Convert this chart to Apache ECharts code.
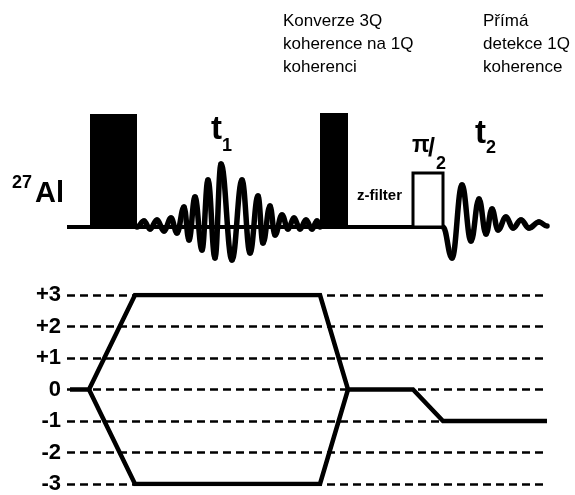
<!DOCTYPE html>
<html>
<head>
<meta charset="utf-8">
<script src="https://cdn.jsdelivr.net/npm/echarts@6/dist/echarts.min.js"></script>
<style>
  html, body { margin: 0; padding: 0; background: #fff; }
  #chart { width: 575px; height: 495px; }
</style>
</head>
<body>
<div id="chart"></div>
<script>
// coherence levels on the lower panel
let levels = [-3, -2, -1, 0, 1, 2, 3];

// pulses: [start, end, height, filled]
let pulses = [
  [90, 137, 113, 1],
  [320, 348, 114, 1],
  [413, 443, 54, 0]
];

let baseline = [[67, 0], [443, 0]];

// extrema of the t1 signal
let fidT1 = [
  [137, 0], [144, 6], [150, -2], [157, 7], [164, -4], [171, 9], [177, -6],
  [184, 20], [189, -13], [195, 30], [202, -23], [208, 47], [215, -31],
  [221, 63], [232, -33], [242, 47], [250, -26], [258, 31], [263, -16],
  [270, 21], [275, -8], [282, 12], [288, -2], [294, 9], [300, -2],
  [306, 7], [312, -2], [317, 6], [320, 0]
];

// extrema of the t2 signal
let fidT2 = [
  [443, 0], [452, -31], [462, 42], [471, -14], [479, 28], [486, -7],
  [492, 18], [498, -3], [506, 10], [513, -1], [521, 7], [529, -1],
  [539, 5], [547, 1]
];

// coherence transfer pathway
let pathUpper = [[70, 0], [89, 0], [135, 3], [320, 3], [348, 0], [413, 0], [443, -1], [547, -1]];
let pathLower = [[89, 0], [135, -3], [320, -3], [348, 0]];

let font = '"Liberation Sans", Arial, sans-serif';

// draws a signal as half-waves between neighbouring extrema (flat at each extremum)
function waveRenderer(points) {
  return function (params, api) {
    let i = params.dataIndex;
    if (i === 0) return null;
    let a = api.coord(points[i - 1]);
    let b = api.coord(points[i]);
    let k = 0.42 * (b[0] - a[0]);
    return {
      type: 'bezierCurve',
      shape: {
        x1: a[0], y1: a[1], x2: b[0], y2: b[1],
        cpx1: a[0] + k, cpy1: a[1], cpx2: b[0] - k, cpy2: b[1]
      },
      style: { stroke: '#000', lineWidth: 5.5, fill: null, lineCap: 'round' }
    };
  };
}

let myChart = echarts.init(document.getElementById('chart'));

let option = {
  animation: false,
  backgroundColor: '#fff',
  grid: [
    { left: 67, right: 28, top: 100, height: 170 },
    { left: 67, right: 28, top: 295, bottom: 7 }
  ],
  xAxis: [
    { type: 'value', gridIndex: 0, min: 67, max: 547, show: false },
    { type: 'value', gridIndex: 1, min: 67, max: 547, show: false }
  ],
  yAxis: [
    { type: 'value', gridIndex: 0, min: -43, max: 127, show: false },
    {
      type: 'value', gridIndex: 1, min: -3, max: 3, interval: 1,
      axisLine: { show: false },
      axisTick: { show: false },
      axisLabel: {
        margin: 6,
        color: '#000',
        fontSize: 22,
        fontWeight: 'bold',
        fontFamily: font,
        formatter: function (v) { return v > 0 ? '+' + v : '' + v; }
      },
      splitLine: {
        show: true,
        lineStyle: { color: '#000', width: 2.5, type: [8, 5] }
      }
    }
  ],
  graphic: [
    { type: 'text', left: 283, top: 10, style: { text: 'Konverze 3Q\nkoherence na 1Q\nkoherenci', font: '17px ' + font, fill: '#000', lineHeight: 23 } },
    { type: 'text', left: 483, top: 10, style: { text: 'Přímá\ndetekce 1Q\nkoherence', font: '17px ' + font, fill: '#000', lineHeight: 23 } },
    { type: 'text', left: 12, top: 174, style: { text: '27', font: 'bold 18px ' + font, fill: '#000' } },
    { type: 'text', left: 35, top: 179, style: { text: 'Al', font: 'bold 29px ' + font, fill: '#000' } },
    { type: 'text', left: 211, top: 113, style: { text: 't', font: 'bold 33px ' + font, fill: '#000' } },
    { type: 'text', left: 222, top: 137, style: { text: '1', font: 'bold 18px ' + font, fill: '#000' } },
    { type: 'text', left: 475, top: 117, style: { text: 't', font: 'bold 33px ' + font, fill: '#000' } },
    { type: 'text', left: 486, top: 139, style: { text: '2', font: 'bold 18px ' + font, fill: '#000' } },
    { type: 'text', left: 412, top: 134, style: { text: 'π', font: 'bold 23px ' + font, fill: '#000' } },
    { type: 'text', left: 428, top: 137, style: { text: '/', font: 'bold 25px ' + font, fill: '#000' } },
    { type: 'text', left: 436, top: 155, style: { text: '2', font: 'bold 18px ' + font, fill: '#000' } },
    { type: 'text', left: 357, top: 188, style: { text: 'z-filter', font: 'bold 15px ' + font, fill: '#000' } }
  ],
  series: [
    {
      type: 'line', xAxisIndex: 0, yAxisIndex: 0,
      data: baseline, symbol: 'none',
      lineStyle: { color: '#000', width: 4, cap: 'butt' }
    },
    {
      type: 'custom', xAxisIndex: 0, yAxisIndex: 0,
      data: pulses, encode: { x: [0, 1], y: 2 }, z: 5,
      renderItem: function (params, api) {
        let p0 = api.coord([api.value(0), 0]);
        let p1 = api.coord([api.value(1), api.value(2)]);
        let filled = api.value(3) === 1;
        return {
          type: 'rect',
          shape: { x: p0[0], y: p1[1], width: p1[0] - p0[0], height: p0[1] - p1[1] },
          style: filled ? { fill: '#000' } : { fill: '#fff', stroke: '#000', lineWidth: 3 }
        };
      }
    },
    {
      type: 'custom', xAxisIndex: 0, yAxisIndex: 0,
      data: fidT1, encode: { x: 0, y: 1 },
      renderItem: waveRenderer(fidT1)
    },
    {
      type: 'custom', xAxisIndex: 0, yAxisIndex: 0,
      data: fidT2, encode: { x: 0, y: 1 },
      renderItem: waveRenderer(fidT2)
    },
    {
      type: 'line', xAxisIndex: 1, yAxisIndex: 1,
      data: pathUpper, symbol: 'none', z: 5,
      lineStyle: { color: '#000', width: 4.5, join: 'miter', cap: 'butt' }
    },
    {
      type: 'line', xAxisIndex: 1, yAxisIndex: 1,
      data: pathLower, symbol: 'none', z: 5,
      lineStyle: { color: '#000', width: 4.5, join: 'miter', cap: 'butt' }
    }
  ]
};

myChart.setOption(option);
</script>
</body>
</html>
